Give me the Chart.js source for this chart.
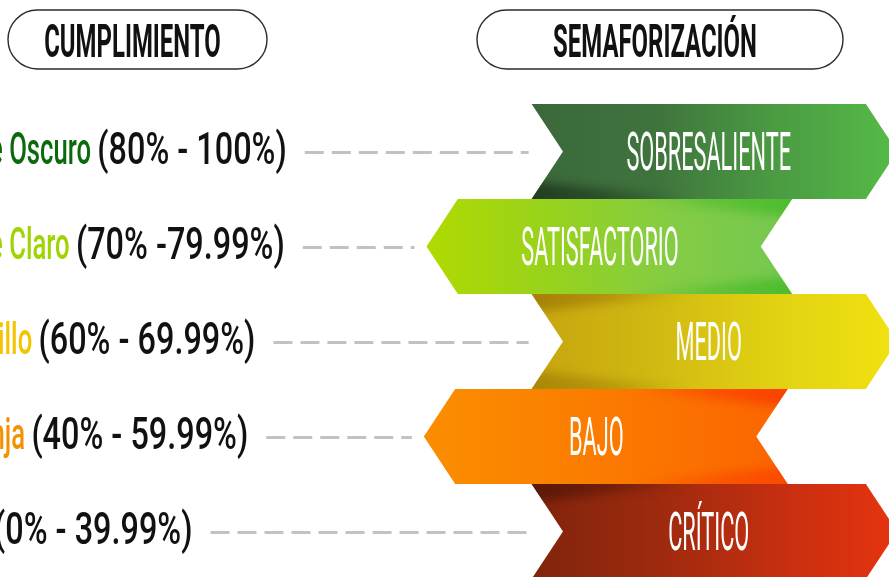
<!DOCTYPE html>
<html>
<head>
<meta charset="utf-8">
<script src="https://cdn.jsdelivr.net/npm/chart.js@4.4.0/dist/chart.umd.min.js"></script>
<style>
  html, body { margin: 0; padding: 0; background: #fff; }
  canvas { display: block; }
</style>
</head>
<body>
<canvas id="chart" width="889" height="577"></canvas>
<script>
// levels of the traffic light, top to bottom
const levels = ['SOBRESALIENTE', 'SATISFACTORIO', 'MEDIO', 'BAJO', 'CRÍTICO'];
const colorNames = ['Verde Oscuro', 'Verde Claro', 'Amarillo', 'Naranja', 'Rojo'];
const ranges = ['(80% - 100%)', '(70% -79.99%)', '(60% - 69.99%)', '(40% - 59.99%)', '(0% - 39.99%)'];
const rowIndex = [1, 2, 3, 4, 5];
// ribbon span on the (hidden) layout axis, 0-100 of the width
const ribbonFrom = [59.8, 51.5, 59.8, 51.2, 59.8];
const ribbonTo = [97.4, 89.1, 97.4, 88.6, 97.4];
const pointsRight = [true, false, true, false, true];
const headers = ['CUMPLIMIENTO', 'SEMAFORIZACIÓN'];

// styling
const nameColors = ['#0b6a0b', '#9fd400', '#f4c400', '#f39200', '#d42a0c'];
const ribbonStops = [
    ['#3b683b', '#3f733d', '#4b9b42', '#55bb47'],
    ['#b0da00', '#98d21c', '#84cc44', '#74c850'],
    ['#c6a50e', '#d0b912', '#e2d112', '#f1e210'],
    ['#fb8d00', '#fa8200', '#fb7300', '#fb6400'],
    ['#80240c', '#9c2a0e', '#c42e10', '#e7340f']
];
const shadows = [
    [{ edge: 'bottom', side: 'left', color: '30,55,28' }],
    [{ edge: 'top', side: 'right', color: '72,186,40' }, { edge: 'bottom', side: 'right', color: '72,186,40' }],
    [{ edge: 'top', side: 'left', color: '160,122,8' }, { edge: 'bottom', side: 'left', color: '165,130,8' }],
    [{ edge: 'top', side: 'right', color: '250,60,0' }, { edge: 'bottom', side: 'right', color: '250,70,0' }],
    [{ edge: 'top', side: 'left', color: '85,22,8' }]
];

function squeezedText(ctx, text, x, y, size, weight, color, squeeze, align) {
    ctx.save();
    ctx.font = weight + ' ' + size + 'px Roboto';
    const w = ctx.measureText(text).width * squeeze;
    ctx.translate(x, y);
    ctx.scale(squeeze, 1);
    ctx.fillStyle = color;
    ctx.textAlign = align;
    ctx.textBaseline = 'alphabetic';
    ctx.fillText(text, 0, 0);
    ctx.restore();
    return w;
}

function ribbonPath(ctx, L, R, top, bot, right, d) {
    const mid = (top + bot) / 2;
    ctx.beginPath();
    ctx.moveTo(L, top);
    ctx.lineTo(R, top);
    ctx.lineTo(right ? R + d : R - d, mid);
    ctx.lineTo(R, bot);
    ctx.lineTo(L, bot);
    ctx.lineTo(right ? L + d : L - d, mid);
    ctx.closePath();
}

const infographic = {
    id: 'infographic',
    afterDatasetsDraw(chart) {
        const ctx = chart.ctx;
        const meta = chart.getDatasetMeta(0);

        // header pills
        const pills = [[8, 10, 259, 59], [477, 10, 366, 59]];
        pills.forEach((p, i) => {
            ctx.save();
            ctx.beginPath();
            ctx.roundRect(p[0], p[1], p[2], p[3], p[3] / 2);
            ctx.lineWidth = 1.4;
            ctx.strokeStyle = '#2b2b2b';
            ctx.stroke();
            ctx.restore();
            squeezedText(ctx, headers[i], p[0] + p[2] / 2 - 5, 57, 46, 'bold', '#111', 0.52, 'center');
        });

        meta.data.forEach((bar, i) => {
            const { x, y, base, height } = bar.getProps(['x', 'y', 'base', 'height'], true);
            const top = y - height / 2, bot = y + height / 2;
            const L = Math.min(x, base), R = Math.max(x, base);
            const right = pointsRight[i];
            const d = height * 0.33;
            const x0 = right ? L : L - d, x1 = right ? R + d : R;

            // ribbon body
            ctx.save();
            ribbonPath(ctx, L, R, top, bot, right, d);
            const g = ctx.createLinearGradient(x0, 0, x1, 0);
            ribbonStops[i].forEach((c, k) => g.addColorStop(k / (ribbonStops[i].length - 1), c));
            ctx.fillStyle = g;
            ctx.fill();
            ctx.clip();

            // fold shading
            shadows[i].forEach(s => {
                const w = (R - L) * 0.5;
                const t = height * 0.2;
                const edgeY = s.edge === 'top' ? top : bot;
                const dir = s.edge === 'top' ? 1 : -1;
                const sx = s.side === 'left' ? x0 - 10 : x1 + 10;
                const ex = s.side === 'left' ? sx + w : sx - w;
                const sg = ctx.createLinearGradient(sx, 0, ex, 0);
                sg.addColorStop(0, 'rgba(' + s.color + ',0.9)');
                sg.addColorStop(0.5, 'rgba(' + s.color + ',0.55)');
                sg.addColorStop(1, 'rgba(' + s.color + ',0)');
                ctx.save();
                ctx.filter = 'blur(5px)';
                ctx.beginPath();
                ctx.moveTo(sx, edgeY - dir * 8);
                ctx.lineTo(ex, edgeY - dir * 8);
                ctx.lineTo(ex, edgeY + dir * 2);
                ctx.quadraticCurveTo(sx + (ex - sx) * 0.4, edgeY + dir * t * 0.6, sx, edgeY + dir * t);
                ctx.closePath();
                ctx.fillStyle = sg;
                ctx.fill();
                ctx.restore();
            });
            ctx.restore();

            // level name inside the ribbon
            const cx = (L + R) / 2 + (right ? 10 : -25);
            squeezedText(ctx, levels[i], cx, y + 19, 53, '400', '#fff', 0.41, 'center');

            // colour name + range on the left
            const labelY = y + 13;
            let tx = -64;
            tx += squeezedText(ctx, colorNames[i] + ' ', tx, labelY, 45, '500', nameColors[i], 0.57, 'left');
            tx += squeezedText(ctx, ranges[i], tx, labelY, 45, '500', '#111', 0.72, 'left');

            // dashed leader
            const endX = right ? L - 3 : x0 - 12;
            ctx.save();
            ctx.beginPath();
            ctx.setLineDash([19, 8]);
            ctx.lineWidth = 3;
            ctx.strokeStyle = '#c2c2c2';
            ctx.moveTo(tx + 18, y + 1);
            ctx.lineTo(endX, y + 1);
            ctx.stroke();
            ctx.restore();
        });
    }
};

new Chart(document.getElementById('chart'), {
    type: 'bar',
    data: {
        datasets: [{
            data: levels.map((l, i) => ({ y: rowIndex[i], x: [ribbonFrom[i], ribbonTo[i]] })),
            backgroundColor: 'rgba(0,0,0,0)',
            borderWidth: 0,
            categoryPercentage: 1,
            barPercentage: 1
        }]
    },
    options: {
        indexAxis: 'y',
        responsive: false,
        animation: false,
        devicePixelRatio: 1,
        layout: { padding: { top: 104, left: 0, right: 0, bottom: 0 } },
        scales: {
            x: { type: 'linear', min: 0, max: 100, display: false },
            y: {
                type: 'linear', reverse: true, min: 0.5, max: 5.48, offset: false, display: false,
                ticks: { stepSize: 1, includeBounds: false }
            }
        },
        plugins: { legend: { display: false }, tooltip: { enabled: false } }
    },
    plugins: [infographic]
});
</script>
</body>
</html>
